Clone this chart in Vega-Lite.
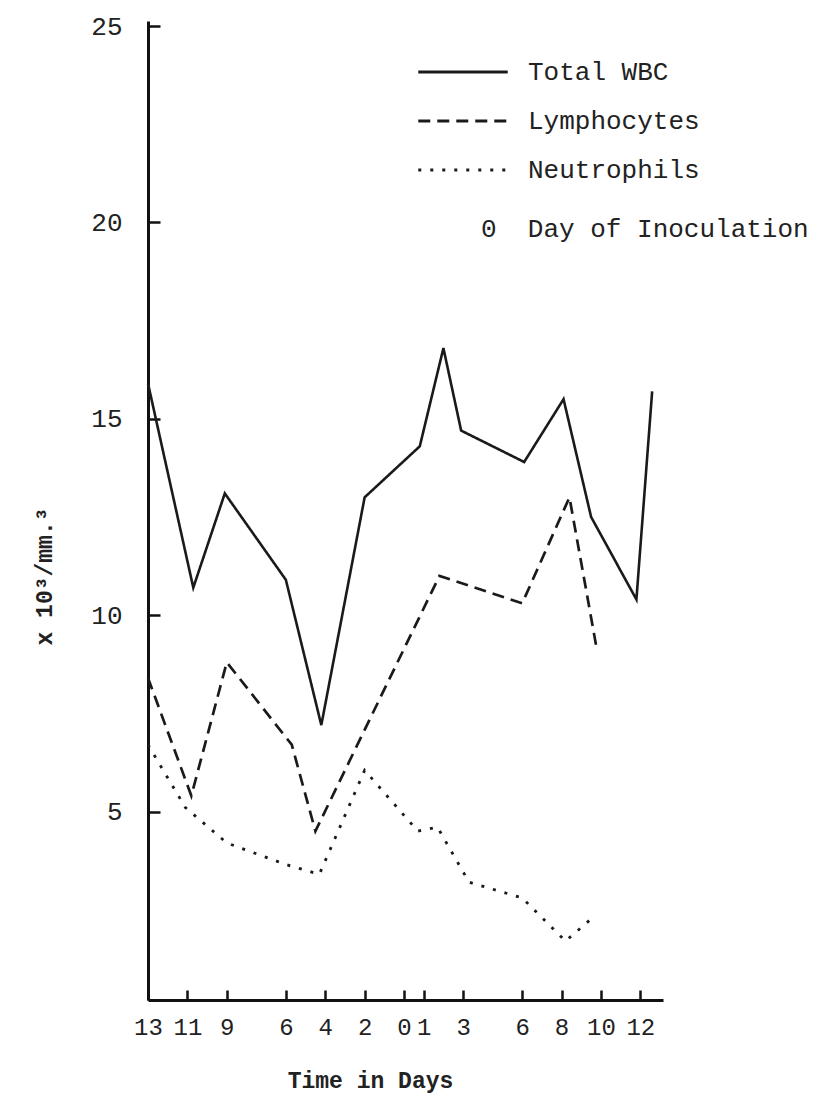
{
  "$schema": "https://vega.github.io/schema/vega-lite/v6.json",
  "width": 515,
  "height": 979,
  "autosize": {"type": "none"},
  "padding": {"left": 148, "top": 21, "right": 163, "bottom": 94},
  "background": "white",
  "config": {
    "view": {"stroke": null},
    "font": "Liberation Mono"
  },
  "data": {
    "values": [
      {"series": "Total WBC", "day": -13, "count": 15.9},
      {"series": "Total WBC", "day": -10.7, "count": 10.7},
      {"series": "Total WBC", "day": -9.1, "count": 13.1},
      {"series": "Total WBC", "day": -6, "count": 10.9},
      {"series": "Total WBC", "day": -4.2, "count": 7.2},
      {"series": "Total WBC", "day": -2, "count": 13.0},
      {"series": "Total WBC", "day": 0.8, "count": 14.3},
      {"series": "Total WBC", "day": 2, "count": 16.8},
      {"series": "Total WBC", "day": 2.9, "count": 14.7},
      {"series": "Total WBC", "day": 6.1, "count": 13.9},
      {"series": "Total WBC", "day": 8.1, "count": 15.5},
      {"series": "Total WBC", "day": 9.5, "count": 12.5},
      {"series": "Total WBC", "day": 11.8, "count": 10.4},
      {"series": "Total WBC", "day": 12.6, "count": 15.7},
      {"series": "Lymphocytes", "day": -13, "count": 8.4},
      {"series": "Lymphocytes", "day": -10.8, "count": 5.4},
      {"series": "Lymphocytes", "day": -9, "count": 8.8},
      {"series": "Lymphocytes", "day": -5.7, "count": 6.7},
      {"series": "Lymphocytes", "day": -4.5, "count": 4.5},
      {"series": "Lymphocytes", "day": 1.8, "count": 11.0},
      {"series": "Lymphocytes", "day": 6, "count": 10.3},
      {"series": "Lymphocytes", "day": 8.4, "count": 13.0},
      {"series": "Lymphocytes", "day": 9.8, "count": 9.1},
      {"series": "Neutrophils", "day": -13, "count": 6.7},
      {"series": "Neutrophils", "day": -11.1, "count": 5.1},
      {"series": "Neutrophils", "day": -9, "count": 4.2},
      {"series": "Neutrophils", "day": -6, "count": 3.65},
      {"series": "Neutrophils", "day": -4.3, "count": 3.4},
      {"series": "Neutrophils", "day": -2, "count": 6.05},
      {"series": "Neutrophils", "day": 0.7, "count": 4.5},
      {"series": "Neutrophils", "day": 1.7, "count": 4.6},
      {"series": "Neutrophils", "day": 3.3, "count": 3.2},
      {"series": "Neutrophils", "day": 6, "count": 2.8},
      {"series": "Neutrophils", "day": 8.2, "count": 1.7},
      {"series": "Neutrophils", "day": 9.7, "count": 2.35}
    ]
  },
  "mark": {"type": "line", "stroke": "#1a1a1a"},
  "encoding": {
    "x": {
      "field": "day",
      "type": "quantitative",
      "scale": {"domain": [-13, 13.15], "nice": false, "zero": false},
      "axis": {
        "values": [-13, -11, -9, -6, -4, -2, 0, 1, 3, 6, 8, 10, 12],
        "labelExpr": "abs(datum.value)",
        "title": "Time in Days",
        "grid": false,
        "domainColor": "#111",
        "domainWidth": 3,
        "tickColor": "#111",
        "tickWidth": 2.5,
        "tickSize": -10,
        "labelPadding": 25,
        "labelFont": "Liberation Mono",
        "labelFontSize": 24,
        "labelColor": "#222",
        "labelFlush": false,
        "labelOverlap": false,
        "titleFont": "Liberation Mono",
        "titleFontSize": 23,
        "titleFontWeight": "bold",
        "titleColor": "#222",
        "titleX": 222,
        "titleY": 80,
        "titleBaseline": "middle",
        "titleAlign": "center"
      }
    },
    "y": {
      "field": "count",
      "type": "quantitative",
      "scale": {"domain": [0.2, 25.13], "nice": false, "zero": false},
      "axis": {
        "values": [5, 10, 15, 20, 25],
        "title": "x 10³/mm.³",
        "grid": false,
        "domainColor": "#111",
        "domainWidth": 3,
        "tickColor": "#111",
        "tickWidth": 2.5,
        "tickSize": -12,
        "labelPadding": 38,
        "labelFont": "Liberation Mono",
        "labelFontSize": 26,
        "labelColor": "#222",
        "labelFlush": false,
        "labelOverlap": false,
        "titleFont": "Liberation Mono",
        "titleFontSize": 23,
        "titleFontWeight": "bold",
        "titleColor": "#222",
        "titleAngle": 270,
        "titleX": -104,
        "titleY": 555,
        "titleBaseline": "middle",
        "titleAlign": "center"
      }
    },
    "strokeWidth": {
      "field": "series",
      "type": "nominal",
      "scale": {
        "domain": ["Total WBC", "Lymphocytes", "Neutrophils"],
        "range": [2.6, 2.8, 3.2]
      },
      "legend": null
    },
    "strokeDash": {
      "field": "series",
      "type": "nominal",
      "scale": {
        "domain": ["Total WBC", "Lymphocytes", "Neutrophils", "Day of Inoculation"],
        "range": [[1, 0], [12, 7], [3, 9], [1, 0]]
      },
      "legend": {
        "orient": "none",
        "legendX": 302,
        "legendY": 38,
        "title": null,
        "symbolType": "M-4,0H4",
        "symbolSize": 500,
        "symbolStrokeColor": "#1a1a1a",
        "symbolStrokeWidth": 2.8,
        "labelFont": "Liberation Mono",
        "labelFontSize": 26,
        "labelColor": "#222",
        "labelOffset": 52,
        "labelLimit": 500,
        "rowPadding": 23,
        "labelExpr": "datum.label == 'Day of Inoculation' ? '0\u00a0\u00a0Day of Inoculation' : datum.label",
        "encode": {
          "symbols": {
            "update": {
              "opacity": {"signal": "datum.value == 'Day of Inoculation' ? 0 : 1"}
            }
          },
          "labels": {
            "update": {
              "dx": {"signal": "datum.value == 'Day of Inoculation' ? -47 : 0"},
              "dy": {"signal": "datum.value == 'Day of Inoculation' ? 10 : 0"}
            }
          }
        }
      }
    }
  }
}
